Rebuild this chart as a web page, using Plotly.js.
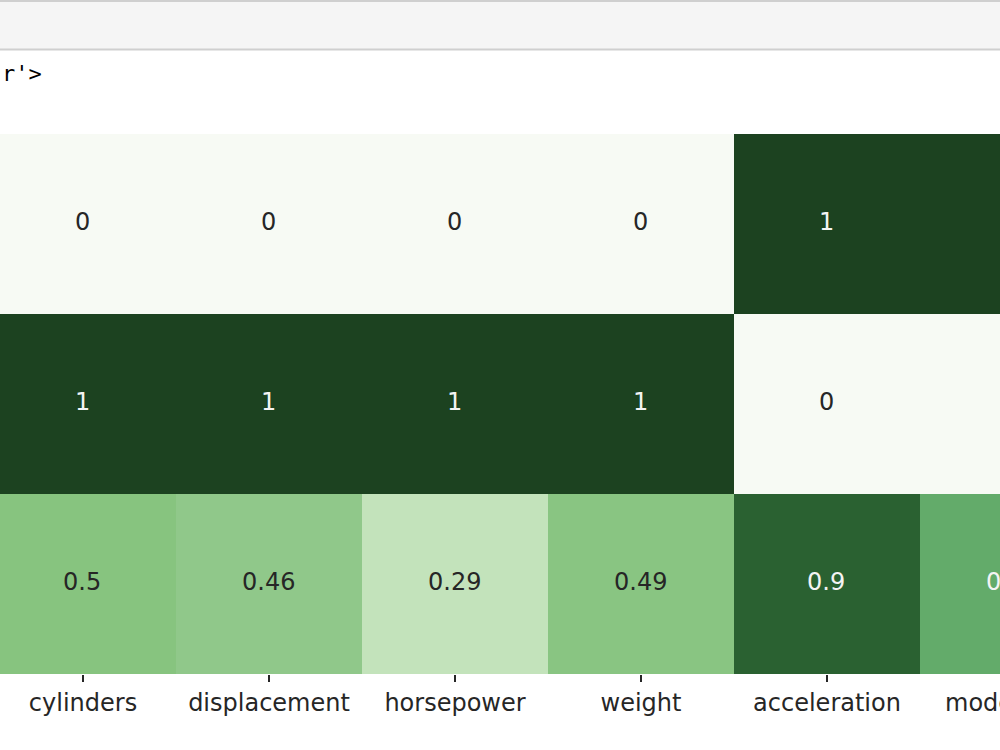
<!DOCTYPE html>
<html>
<head>
<meta charset="utf-8">
<script src="https://cdn.plot.ly/plotly-3.0.1.min.js"></script>
<style>
  html, body { margin: 0; padding: 0; width: 1000px; height: 750px; overflow: hidden; background: #ffffff; }
  #chart { position: absolute; left: -10px; top: 0; width: 1120px; height: 750px; }
</style>
</head>
<body>
<div id="chart"></div>
<script>
// ---- data ----
const features = ["cylinders", "displacement", "horsepower", "weight", "acceleration", "model year"];
const clusters = ["0", "1", "2"];
const row0 = [0, 0, 0, 0, 1, 1];
const row1 = [1, 1, 1, 1, 0, 0];
const row2 = [0.5, 0.46, 0.29, 0.49, 0.9, 0.62];
const outputTail = "r'>";

const z = [row0, row1, row2];
const xIdx = features.map((_, i) => i);

// ---- layout helpers ----
const W = 1120, H = 750;
const M = { l: 0, r: 4, t: 134, b: 76 };
const plotH = H - M.t - M.b;
const plotW = W - M.l - M.r;
const pyToPaper = py => (H - M.b - py) / plotH;      // page px (y) -> paper
const pxToPaper = px => (px + 10 - M.l) / plotW;     // viewport px (x) -> paper (div shifted by -10)

const colorscale = [
  [0.0, "#f7faf4"],
  [0.29, "#c3e3bb"],
  [0.46, "#90c88a"],
  [0.5, "#87c47f"],
  [0.62, "#63ab6a"],
  [0.9, "#2a6131"],
  [1.0, "#1c4220"]
];

function fmt(v) { return String(Math.round(v * 100) / 100); }

const annotations = [];
z.forEach((row, r) => {
  row.forEach((v, c) => {
    annotations.push({
      x: xIdx[c], y: clusters[r], xref: "x", yref: "y",
      text: fmt(v), showarrow: false, yshift: 2, xshift: -1,
      font: { family: "DejaVu Sans", size: 24, color: v > 0.55 ? "#f4f4f4" : "#262626" }
    });
  });
});
annotations.push({
  xref: "paper", yref: "paper", x: pxToPaper(0), y: pyToPaper(74),
  xanchor: "left", yanchor: "middle", text: outputTail, showarrow: false,
  font: { family: "DejaVu Sans Mono", size: 22, color: "#000000" }
});

const shapes = [
  { type: "rect", xref: "paper", yref: "paper", x0: -0.2, x1: 1.2, y0: pyToPaper(50), y1: pyToPaper(0),
    fillcolor: "#f5f5f5", line: { width: 0 }, layer: "below" },
  { type: "line", xref: "paper", yref: "paper", x0: -0.2, x1: 1.2, y0: pyToPaper(1), y1: pyToPaper(1),
    line: { color: "#cfcfcf", width: 2 } },
  { type: "line", xref: "paper", yref: "paper", x0: -0.2, x1: 1.2, y0: pyToPaper(49.5), y1: pyToPaper(49.5),
    line: { color: "#cfcfcf", width: 2 } }
];

const trace = {
  type: "heatmap",
  x: xIdx, y: clusters, z: z,
  colorscale: colorscale, zmin: 0, zmax: 1,
  showscale: false, hoverinfo: "skip", xgap: 0, ygap: 0
};

const layout = {
  width: W, height: H,
  margin: M,
  paper_bgcolor: "rgba(0,0,0,0)",
  plot_bgcolor: "#ffffff",
  showlegend: false,
  xaxis: {
    range: [-0.5, features.length - 0.5],
    tickmode: "array", tickvals: xIdx, ticktext: features,
    ticks: "outside", ticklen: 7, tickwidth: 1.5, tickcolor: "#262626",
    tickfont: { family: "DejaVu Sans", size: 24, color: "#262626" },
    ticklabelstandoff: 0,
    showgrid: false, zeroline: false, showline: false, fixedrange: true
  },
  yaxis: {
    type: "category", autorange: "reversed",
    showticklabels: false, ticks: "",
    showgrid: false, zeroline: false, showline: false, fixedrange: true
  },
  annotations: annotations,
  shapes: shapes
};

Plotly.newPlot("chart", [trace], layout, { staticPlot: true, displayModeBar: false });
</script>
</body>
</html>
